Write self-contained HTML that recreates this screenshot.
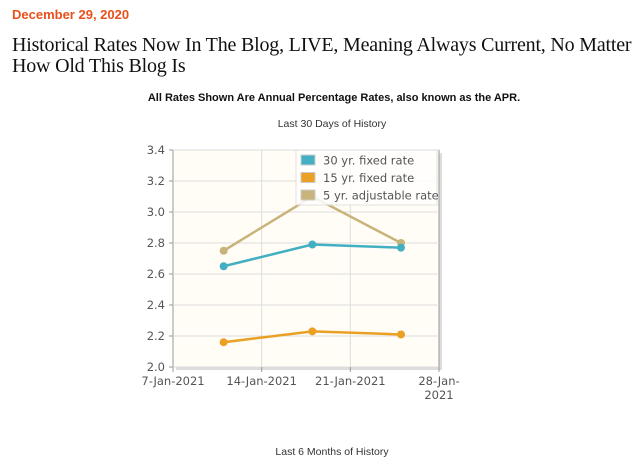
<!DOCTYPE html>
<html><head><meta charset="utf-8"><style>
body{margin:0;width:640px;height:470px;background:#fff;position:relative;overflow:hidden;font-family:"Liberation Sans",sans-serif}
.a{position:absolute;white-space:nowrap}
</style></head><body>
<div class="a" style="left:12px;top:7px;font-size:13px;font-weight:bold;color:#e8501c">December 29, 2020</div>
<div class="a" style="left:12px;top:35px;font-family:'Liberation Serif',serif;font-size:20px;letter-spacing:-0.2px;line-height:21px;color:#111">Historical Rates Now In The Blog, LIVE, Meaning Always Current, No Matter<br>How Old This Blog Is</div>
<div class="a" style="left:0;width:668px;text-align:center;top:92px;font-size:11px;font-weight:bold;color:#111">All Rates Shown Are Annual Percentage Rates, also known as the APR.</div>
<div class="a" style="left:0;width:664px;text-align:center;top:118px;font-size:10.5px;color:#333">Last 30 Days of History</div>
<div class="a" style="left:0;width:664px;text-align:center;top:446px;font-size:10.5px;color:#333">Last 6 Months of History</div>
<svg class="a" style="left:0;top:0" width="640" height="470">
<g id="g"></g>
</svg>
<script>
const dates=[4,11,18]; // days after 7-Jan-2021
const s30=[2.65,2.79,2.77];
const s15=[2.16,2.23,2.21];
const s5=[2.75,3.10,2.80];
const yTicks=[2.0,2.2,2.4,2.6,2.8,3.0,3.2,3.4];
const xTicks=[0,7,14,21];
const xLabels=["7-Jan-2021","14-Jan-2021","21-Jan-2021","28-Jan-"];
const names=["30 yr. fixed rate","15 yr. fixed rate","5 yr. adjustable rate"];
const X0=173,X1=439,Y0=367,Y1=150;
const x=d=>X0+(d-0)/21*(X1-X0);
const y=v=>Y0-(v-2.0)/1.4*(Y0-Y1);
const g=document.getElementById('g');
const NS='http://www.w3.org/2000/svg';
function mk(t,a,p){const e=document.createElementNS(NS,t);for(const k in a)e.setAttribute(k,a[k]);(p||g).appendChild(e);return e;}
let e;
e=mk('rect',{x:X0+3,y:Y1+3,width:X1-X0,height:Y0-Y1,fill:'#ddd'});

e=mk('rect',{x:X0,y:Y1,width:X1-X0,height:Y0-Y1,fill:'#fffdf6',stroke:'#999'});

yTicks.forEach(v=>{
 e=mk('line',{x1:X0,x2:X1,y1:y(v),y2:y(v),stroke:'#ddd'});
 
 mk('line',{x1:X0-4,x2:X0,y1:y(v),y2:y(v),stroke:'#999'});
 e=mk('text',{x:X0-8,y:y(v)+4,'text-anchor':'end','font-size':'11.5',fill:'#555','font-family':'DejaVu Sans'});
 e.textContent=v.toFixed(1);
 
});
xTicks.forEach((d,i)=>{
 if(i>0&&i<3){e=mk('line',{x1:x(d),x2:x(d),y1:Y1,y2:Y0,stroke:'#ddd'});
 }
 mk('line',{x1:x(d),x2:x(d),y1:Y0,y2:Y0+5,stroke:'#999'});
 e=mk('text',{x:x(d),y:Y0+18,'text-anchor':'middle','font-size':'11.5',fill:'#555','font-family':'DejaVu Sans'});
 e.textContent=xLabels[i];
 
});
e=mk('text',{x:x(21),y:Y0+32,'text-anchor':'middle','font-size':'11.5',fill:'#555','font-family':'DejaVu Sans'});e.textContent='2021';

const series=[[s5,'#c8b47a','series-5yr'],[s30,'#43afc3','series-30yr'],[s15,'#eba024','series-15yr']];
series.forEach(([s,c,n])=>{
 e=mk('polyline',{points:s.map((v,i)=>x(dates[i])+','+y(v)).join(' '),fill:'none',stroke:c,'stroke-width':2.5});
 
 s.forEach((v,i)=>{e=mk('circle',{cx:x(dates[i]),cy:y(v),r:4,fill:c});
 });
});
e=mk('rect',{x:296,y:150,width:141,height:55,fill:'#fff',opacity:0.85,stroke:'#ddd'});

const lc=['#43afc3','#eba024','#c8b47a'];
names.forEach((nm,i)=>{
 const yy=153+i*17.5;
 e=mk('rect',{x:301,y:yy+2,width:14,height:10,fill:lc[i],stroke:'#ccc'});
 
 e=mk('text',{x:323,y:yy+11.5,'font-size':'11.5',fill:'#555','font-family':'DejaVu Sans'});e.textContent=nm;
 
});
</script>
</body></html>
